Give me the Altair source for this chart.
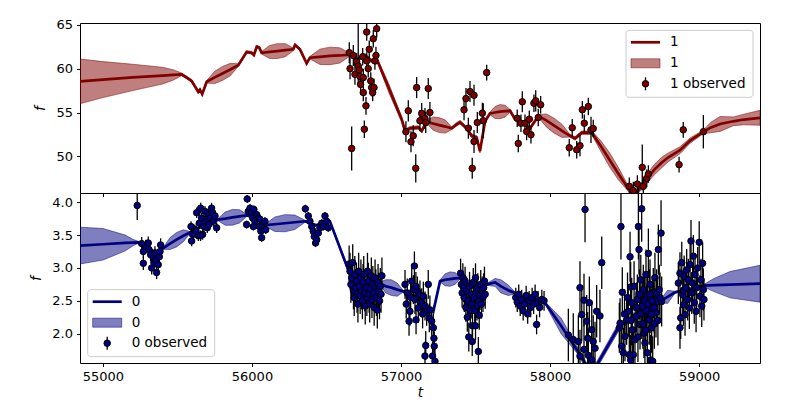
import altair as alt
import pandas as pd

# ---------------- shared axis values ----------------
X_DOMAIN = [54846, 59409]
X_TICKS = [55000, 56000, 57000, 58000, 59000]

# ---------------- channel "1" (top panel) ----------------
Y1_DOMAIN = [45.83, 65.2]
Y1_TICKS = [50, 55, 60, 65]

fit1_t = [54846, 55000, 55200, 55400, 55470, 55528, 55560, 55595, 55640, 55651, 55666, 55696,
          55750, 55802, 55855, 55908, 55964, 55998, 56013, 56032, 56049, 56065, 56118, 56171,
          56224, 56277, 56289, 56322, 56367, 56389, 56456, 56523, 56590, 56658, 56700, 56760,
          56800, 56837, 56920, 57005, 57027, 57060, 57116, 57139, 57172, 57214, 57256, 57298,
          57340, 57369, 57396, 57441, 57474, 57508, 57530, 57564, 57597, 57631, 57664, 57698,
          57732, 57765, 57810, 57866, 57922, 57975, 58028, 58081, 58134, 58168, 58213, 58280,
          58340, 58400, 58460, 58526, 58582, 58649, 58700, 58750, 58794, 58872, 58940, 59029,
          59080, 59141, 59230, 59300, 59409]
fit1_mean = [58.55, 58.75, 59.0, 59.2, 59.28, 59.35, 59.0, 58.6, 57.35, 57.6, 57.1, 58.5,
             59.0, 59.45, 59.9, 60.4, 61.9, 61.8, 61.55, 62.5, 62.4, 61.8, 61.9, 62.0,
             62.1, 62.2, 62.7, 62.2, 60.6, 61.25, 61.35, 61.45, 61.5, 61.6, 61.0, 61.5,
             60.9, 61.1, 57.7, 54.2, 52.9, 53.2, 53.3, 52.9, 53.94, 53.75, 53.57, 53.4,
             53.2, 53.6, 53.9, 53.2, 52.35, 52.16, 50.6, 54.0, 54.9, 55.0, 55.1, 55.15,
             55.2, 54.24, 53.9, 53.2, 54.6, 54.1, 53.5, 52.9, 52.35, 52.05, 52.7, 52.7,
             51.2, 49.6, 48.0, 46.3, 45.9, 47.4, 48.5, 49.3, 49.9, 50.7, 51.8, 52.8,
             53.3, 53.7, 54.0, 54.2, 54.4]
fit1_hw = [2.55, 2.05, 1.5, 0.95, 0.6, 0.15, 0.15, 0.15, 0.15, 0.15, 0.15, 0.15,
           0.7, 0.8, 0.7, 0.15, 0.15, 0.15, 0.15, 0.15, 0.15, 0.15, 0.74, 0.85,
           0.74, 0.15, 0.15, 0.15, 0.15, 0.15, 0.87, 1.0, 0.87, 0.15, 0.2, 0.2,
           0.2, 0.2, 0.5, 0.3, 0.2, 0.2, 0.2, 0.2, 0.15, 0.74, 0.85, 0.74,
           0.15, 0.2, 0.2, 0.2, 0.2, 0.2, 0.2, 0.2, 0.15, 0.68, 0.8, 0.68,
           0.15, 0.2, 0.2, 0.2, 0.15, 0.74, 0.85, 0.74, 0.15, 0.2, 0.2, 0.2,
           0.6, 0.8, 0.7, 0.3, 0.3, 0.5, 0.6, 0.6, 0.5, 0.4, 0.3, 0.2,
           0.6, 0.85, 0.5, 0.6, 0.85]

obs1_t = [56653, 56658, 56669, 56680, 56691, 56703, 56713, 56713, 56720, 56725, 56729, 56743,
          56747, 56747, 56754, 56765, 56770, 56770, 56780, 56787, 56797, 56803, 56810, 56814,
          56819, 56825, 56832, 56837,
          57033, 57049, 57067, 57082, 57099, 57105, 57127, 57139, 57161, 57166, 57183, 57194,
          57423, 57436, 57452, 57463, 57478, 57490, 57490, 57512, 57546, 57552, 57575,
          57780, 57787, 57805, 57814, 57832, 57843, 57861, 57872, 57892, 57904, 57921, 57937,
          58129, 58149, 58179, 58201, 58217, 58230, 58257, 58275, 58290,
          58532, 58559, 58586, 58593, 58619, 58626, 58649, 58660,
          58866, 58894, 59029]
obs1_f = [61.82, 60.0, 50.9, 61.5, 59.35, 60.76, 60.3, 66.0, 59.85, 59.1, 58.2, 61.36,
          58.98, 57.27, 53.1, 55.76, 64.17, 60.88, 60.0, 62.2, 58.6, 57.84, 57.27, 63.4,
          57.84, 60.88, 61.5, 64.55,
          52.81, 55.19, 51.67, 52.35, 48.64, 57.84, 54.06, 54.89, 54.32, 53.86, 57.73, 55.0,
          55.31, 56.59, 53.22, 57.39, 48.64, 56.97, 51.7, 53.86, 54.92, 54.06, 59.55,
          54.35, 51.48, 53.78, 56.22, 53.78, 52.84, 54.24, 52.47, 56.06, 56.33, 54.43, 55.88,
          50.99, 53.26, 50.76, 51.22, 55.31, 53.78, 55.68, 53.03, 53.18,
          46.59, 46.1, 46.85, 45.2, 48.75, 46.59, 47.5, 47.99,
          49.06, 53.03, 52.81]
obs1_err = [1.2, 1.2, 2.5, 1.2, 1.2, 1.0, 1.0, 7.9, 1.0, 1.0, 1.0, 1.0,
            1.0, 1.0, 1.0, 1.0, 1.0, 1.0, 1.0, 1.0, 1.0, 1.0, 1.0, 1.0,
            1.0, 1.0, 1.0, 1.0,
            1.2, 1.2, 1.2, 1.2, 1.6, 1.2, 1.2, 1.2, 1.2, 1.2, 1.2, 1.2,
            1.2, 1.2, 1.2, 1.2, 1.2, 1.2, 1.3, 1.2, 1.2, 2.0, 0.9,
            1.0, 1.0, 1.0, 1.2, 1.0, 1.0, 1.0, 1.0, 1.0, 1.2, 1.0, 1.0,
            1.0, 1.0, 1.0, 1.2, 1.0, 1.0, 1.0, 1.5, 1.0,
            1.0, 1.0, 1.0, 1.3, 2.6, 1.0, 1.0, 1.0,
            0.9, 0.9, 1.9]

# ---------------- channel "0" (bottom panel) ----------------
Y0_DOMAIN = [1.554, 4.14]
Y0_TICKS = [2.0, 2.5, 3.0, 3.5, 4.0]

fit0_t = [54846, 55000, 55150, 55200, 55237, 55300, 55360, 55405, 55450, 55494, 55540, 55584,
          55678, 55772, 55820, 55869, 55917, 55966, 56027, 56087, 56154, 56221, 56288, 56356,
          56430, 56523, 56646, 56752, 56859, 56897, 56936, 56975, 57013, 57114, 57217, 57262,
          57296, 57329, 57363, 57396, 57487, 57577, 57631, 57671, 57720, 57765, 57866, 57966,
          58074, 58179, 58248, 58313, 58458, 58604, 58738, 58789, 58839, 58940, 59029, 59100,
          59208, 59409]
fit0_mean = [3.34, 3.36, 3.38, 3.385, 3.39, 3.30, 3.22, 3.30, 3.37, 3.43, 3.49, 3.54,
             3.65, 3.735, 3.75, 3.77, 3.785, 3.80, 3.75, 3.65, 3.665, 3.68, 3.695, 3.71,
             3.65, 3.71, 2.97, 2.80, 2.77, 2.72, 2.70, 2.67, 2.645, 2.55, 2.34, 2.80,
             2.82, 2.83, 2.84, 2.85, 2.70, 2.75, 2.78, 2.72, 2.66, 2.62, 2.50, 2.47,
             2.12, 1.76, 1.50, 1.52, 2.09, 2.35, 2.49, 2.56, 2.63, 2.68, 2.73, 2.74,
             2.745, 2.76]
fit0_hw = [0.28, 0.24, 0.12, 0.05, 0.015, 0.015, 0.015, 0.015, 0.09, 0.11, 0.09, 0.015,
           0.015, 0.015, 0.1, 0.12, 0.1, 0.015, 0.015, 0.015, 0.11, 0.13, 0.11, 0.015,
           0.015, 0.015, 0.03, 0.015, 0.015, 0.1, 0.12, 0.1, 0.015, 0.015, 0.015, 0.015,
           0.09, 0.11, 0.09, 0.015, 0.015, 0.015, 0.06, 0.1, 0.08, 0.015, 0.015, 0.015,
           0.12, 0.05, 0.05, 0.05, 0.06, 0.04, 0.015, 0.1, 0.015, 0.015, 0.015, 0.1,
           0.2, 0.28]

a_t = [55230, 55260, 55271, 55271, 55287, 55304, 55309, 55320, 55327, 55338, 55342, 55349,
       55356, 55360, 55371, 55378, 55383, 55387]
a_f = [3.95, 3.37, 3.25, 3.07, 3.33, 3.38, 3.28, 3.20, 3.00, 3.15, 3.08, 3.23,
       3.13, 2.93, 3.05, 3.17, 3.25, 3.35]
b_t = [55591, 55595, 55602, 55617, 55629, 55640, 55646, 55656, 55662, 55669, 55678, 55685,
       55691, 55700, 55707, 55718, 55729, 55736, 55740, 55752, 55763, 55625, 55655, 55710]
b_f = [3.63, 3.41, 3.51, 3.58, 3.84, 3.49, 3.68, 3.91, 3.76, 3.51, 3.63, 3.86,
       3.71, 3.61, 3.81, 3.76, 3.91, 3.84, 3.71, 3.79, 3.61, 3.56, 3.49, 3.66]
c_t = [55964, 55968, 55975, 55987, 55998, 56005, 56009, 56013, 56020, 56032, 56042, 56049,
       56054, 56060, 56065, 56072, 56080, 56087, 56092]
c_f = [3.66, 4.05, 3.86, 3.91, 3.84, 3.76, 3.63, 3.89, 3.71, 3.81, 3.76, 3.63,
       3.74, 3.56, 3.46, 3.66, 3.61, 3.71, 3.58]
d_t = [56358, 56378, 56389, 56401, 56411, 56418, 56427, 56434, 56445, 56456, 56468, 56478,
       56490, 56501, 56512]
d_f = [3.90, 3.79, 3.71, 3.63, 3.56, 3.48, 3.38, 3.43, 3.53, 3.61, 3.68, 3.63,
       3.79, 3.71, 3.61]
e_t = [56652, 56658, 56664, 56669, 56676, 56681, 56686, 56690, 56696, 56701, 56705, 56711,
       56716, 56720, 56726, 56731, 56735, 56741, 56745, 56750, 56756, 56760, 56766, 56771,
       56775, 56781, 56786, 56790, 56796, 56801, 56805, 56811, 56816, 56820, 56826, 56831,
       56835, 56841, 56846, 56850, 56856, 56861, 56866, 56872]
e_f = [3.06, 2.95, 2.75, 2.85, 3.08, 2.65, 2.55, 2.90, 2.70, 2.80, 2.60, 2.45,
       2.95, 2.72, 2.58, 2.85, 2.65, 2.50, 2.78, 2.90, 2.62, 2.42, 2.70, 2.55,
       2.95, 2.80, 2.60, 2.45, 2.68, 2.88, 2.52, 2.75, 2.62, 2.40, 2.85, 2.70,
       2.55, 2.36, 2.78, 2.65, 2.50, 2.72, 2.60, 2.88]
f_t = [57027, 57042, 57054, 57060, 57072, 57083, 57090, 57094, 57101, 57110, 57116, 57127,
       57139, 57150, 57161, 57161, 57166, 57172, 57183, 57190, 57194, 57206, 57212, 57217,
       57221, 57223, 57228, 57035, 57065, 57100, 57145]
f_f = [2.75, 2.62, 2.19, 2.34, 2.80, 2.67, 3.03, 2.52, 2.21, 2.65, 2.39, 2.59,
       2.47, 2.57, 2.42, 1.66, 1.82, 2.34, 2.75, 2.24, 2.36, 2.19, 1.66, 2.09,
       1.93, 1.81, 1.58, 2.45, 2.55, 2.72, 2.30]
g_t = [57400, 57405, 57410, 57415, 57420, 57425, 57430, 57435, 57440, 57445, 57450, 57455,
       57460, 57465, 57470, 57475, 57478, 57480, 57485, 57490, 57495, 57500, 57500, 57505,
       57510, 57515, 57519, 57520, 57525, 57530, 57535, 57540, 57545, 57550, 57555, 57560,
       57565]
g_f = [2.92, 2.75, 2.62, 2.85, 2.70, 2.55, 2.80, 2.40, 2.65, 2.25, 2.50, 1.95,
       2.72, 2.35, 2.60, 2.45, 1.88, 2.12, 2.78, 2.55, 2.35, 2.85, 2.12, 2.62,
       2.42, 2.70, 1.73, 2.50, 2.28, 2.58, 2.75, 2.45, 2.65, 2.55, 2.70, 2.80,
       2.60]
h_t = [57770, 57780, 57790, 57800, 57810, 57820, 57830, 57840, 57850, 57860, 57870, 57880,
       57890, 57900, 57910, 57920, 57930, 57945, 57960]
h_f = [2.55, 2.48, 2.60, 2.42, 2.52, 2.35, 2.45, 2.58, 2.30, 2.50, 2.40, 2.55,
       2.45, 2.60, 2.14, 2.50, 2.40, 2.52, 2.50]
i_t = [58123, 58156, 58190, 58201, 58201, 58213, 58228, 58228, 58235, 58246, 58253, 58257,
       58264, 58280, 58280, 58290, 58302, 58313, 58335, 58347]
i_f = [1.98, 1.91, 1.88, 2.70, 1.66, 2.29, 2.51, 1.76, 3.89, 2.19, 1.93, 1.67,
       2.47, 2.06, 1.60, 1.88, 1.78, 2.34, 2.27, 3.08]
j_t = [58465, 58470, 58476, 58481, 58485, 58492, 58503, 58514, 58525, 58532, 58537, 58541,
       58541, 58548, 58552, 58559, 58564, 58570, 58577, 58586, 58593, 58597, 58604, 58609,
       58615, 58619, 58626, 58630, 58637, 58644, 58653, 58653, 58660, 58666, 58671, 58675,
       58677, 58682, 58689, 58693, 58704, 58711, 58720, 58727, 58733, 58745, 58749,
       58500, 58520, 58545, 58580, 58600, 58612, 58623, 58635, 58648, 58657, 58668, 58680,
       58686, 58698, 58715, 58724, 58738, 58590, 58642, 58700]
j_f = [2.09, 2.16, 3.63, 1.81, 2.63, 1.71, 1.96, 2.21, 2.34, 1.68, 3.17, 2.71,
       1.60, 2.47, 2.06, 1.68, 2.72, 1.91, 2.26, 2.52, 3.63, 3.28, 2.14, 2.82,
       3.90, 2.42, 2.67, 2.01, 1.86, 2.90, 2.57, 1.71, 3.22, 2.21, 2.75, 1.60,
       2.39, 2.09, 1.58, 2.62, 2.85, 2.32, 2.49, 3.28, 2.67, 3.53, 2.49,
       2.30, 2.55, 2.20, 2.40, 2.60, 2.30, 2.15, 2.50, 2.35, 2.45, 2.60, 2.30,
       2.50, 2.40, 2.60, 2.20, 2.55, 1.95, 2.05, 2.15]
k_t = [58861, 58872, 58872, 58877, 58884, 58891, 58895, 58895, 58900, 58906, 58913, 58917,
       58924, 58928, 58935, 58940, 58946, 58951, 58957, 58962, 58968, 58973, 58980, 58984,
       58991, 59001, 59006, 59013, 59018, 59024, 59029, 59033]
k_f = [2.77, 2.09, 2.92, 2.24, 3.08, 2.59, 2.44, 2.66, 2.87, 2.29, 2.70, 2.97,
       2.52, 2.82, 2.39, 3.05, 3.41, 2.62, 2.77, 3.18, 2.47, 2.90, 2.34, 2.70,
       3.00, 3.39, 2.57, 2.82, 2.42, 3.07, 2.67, 2.52]
# error-bar half lengths read per group
group_err = {"a": 0.1, "b": 0.08, "c": 0.06, "d": 0.06, "e": 0.28, "f": 0.22,
             "g": 0.22, "h": 0.15, "i": 0.4, "j": 0.38, "k": 0.32}

LEGEND_LABELS_1 = ["1", "1", "1 observed"]
LEGEND_LABELS_0 = ["0", "0", "0 observed"]

RED = "#800000"
BLUE = "#000080"
FONT = "DejaVu Sans"

# ---------------- tables ----------------
fit1 = pd.DataFrame({"t": fit1_t, "mean": fit1_mean, "hw": fit1_hw})
fit1["lo"] = fit1["mean"] - fit1["hw"]
fit1["hi"] = fit1["mean"] + fit1["hw"]
obs1 = pd.DataFrame({"t": obs1_t, "f": obs1_f, "err": obs1_err})
obs1["lo"] = obs1["f"] - obs1["err"]
obs1["hi"] = obs1["f"] + obs1["err"]

fit0 = pd.DataFrame({"t": fit0_t, "mean": fit0_mean, "hw": fit0_hw})
fit0["lo"] = fit0["mean"] - fit0["hw"]
fit0["hi"] = fit0["mean"] + fit0["hw"]
groups = {"a": (a_t, a_f), "b": (b_t, b_f), "c": (c_t, c_f), "d": (d_t, d_f),
          "e": (e_t, e_f), "f": (f_t, f_f), "g": (g_t, g_f), "h": (h_t, h_f),
          "i": (i_t, i_f), "j": (j_t, j_f), "k": (k_t, k_f)}
rows = []
for key, (ts, fs) in groups.items():
    for tv, fv in zip(ts, fs):
        rows.append({"t": tv, "f": fv, "err": group_err[key]})
obs0 = pd.DataFrame(rows)
obs0.loc[(obs0["t"] == 55230), "err"] = 0.22
obs0.loc[(obs0["f"] > 3.5) & (obs0["t"] > 58100), "err"] = 0.5
obs0["lo"] = obs0["f"] - obs0["err"]
obs0["hi"] = obs0["f"] + obs0["err"]


def panel(fit, obs, color, ydom, yticks, yfmt, show_x, leg_x, leg_y, labels):
    xaxis_kw = dict(values=X_TICKS, format="d", tickSize=3.5, domain=False,
                    labelPadding=4, labels=show_x)
    if show_x:
        xaxis_kw["title"] = "t"
        xaxis_kw["titlePadding"] = 2
    else:
        xaxis_kw["title"] = ""
    xscale = alt.Scale(domain=X_DOMAIN, nice=False, zero=False)
    yscale = alt.Scale(domain=ydom, nice=False, zero=False)
    yaxis = alt.Axis(values=yticks, format=yfmt, title="f", tickSize=3.5, domain=False,
                     labelPadding=4, titlePadding=8)

    def X():
        return alt.X("t:Q", scale=xscale, axis=alt.Axis(**xaxis_kw))

    def Y(field):
        return alt.Y(field, scale=yscale, axis=yaxis)

    band = alt.Chart(fit).mark_area(clip=True, fill=color, fillOpacity=0.5, stroke=color,
                                    strokeOpacity=0.5, strokeWidth=1).encode(
        x=X(), y=Y("lo:Q"), y2="hi:Q")
    line = alt.Chart(fit).mark_line(clip=True, color=color, strokeWidth=2.7).encode(
        x=X(), y=Y("mean:Q"))
    bars = alt.Chart(obs).mark_rule(clip=True, color="black", strokeWidth=1.3).encode(
        x=X(), y=Y("lo:Q"), y2="hi:Q")
    pts = alt.Chart(obs).mark_point(clip=True, filled=True, fill=color, stroke="black",
                                    strokeWidth=1, size=42, opacity=1, fillOpacity=1).encode(
        x=X(), y=Y("f:Q"))

    one = alt.Data(values=[{"k": 0}])
    box = alt.Chart(one).mark_rect(fill="white", fillOpacity=0.8, stroke="#cccccc",
                                   strokeWidth=1, cornerRadius=3).encode(
        x=alt.value(leg_x), x2=alt.value(leg_x + 127),
        y=alt.value(leg_y), y2=alt.value(leg_y + 67))
    lg_line = alt.Chart(one).mark_rule(color=color, strokeWidth=2.7).encode(
        x=alt.value(leg_x + 5), x2=alt.value(leg_x + 34), y=alt.value(leg_y + 12))
    lg_rect = alt.Chart(one).mark_rect(fill=color, fillOpacity=0.5, stroke=color,
                                       strokeOpacity=0.5, strokeWidth=1).encode(
        x=alt.value(leg_x + 5), x2=alt.value(leg_x + 34),
        y=alt.value(leg_y + 28.5), y2=alt.value(leg_y + 37.5))
    lg_bar = alt.Chart(one).mark_rule(color="black", strokeWidth=1.3).encode(
        x=alt.value(leg_x + 19.5), y=alt.value(leg_y + 47), y2=alt.value(leg_y + 60))
    lg_pt = alt.Chart(one).mark_point(filled=True, fill=color, stroke="black", strokeWidth=1,
                                      size=42, opacity=1).encode(
        x=alt.value(leg_x + 19.5), y=alt.value(leg_y + 53.5))
    txt = []
    for lab, dy in zip(labels, [12, 33, 53.5]):
        txt.append(alt.Chart(one).mark_text(align="left", baseline="middle", font=FONT,
                                            fontSize=13.5, color="black").encode(
            x=alt.value(leg_x + 44), y=alt.value(leg_y + dy), text=alt.value(lab)))
    return alt.layer(band, line, bars, pts, box, lg_line, lg_rect, lg_bar, lg_pt, *txt).properties(
        width=680, height=170)


top = panel(fit1, obs1, RED, Y1_DOMAIN, Y1_TICKS, "d", False, 546, 7.3, LEGEND_LABELS_1)
bottom = panel(fit0, obs0, BLUE, Y0_DOMAIN, Y0_TICKS, ".1f", True, 7.7, 96.7, LEGEND_LABELS_0)

chart = alt.vconcat(top, bottom, spacing=0, bounds="flush").properties(
    padding={"left": 21, "top": 10, "right": 5, "bottom": 5},
    background="white",
).configure_view(stroke="black", strokeWidth=1).configure_axis(
    grid=False, tickColor="black", tickWidth=1, labelColor="black", labelFont=FONT,
    labelFontSize=13, titleFont=FONT, titleFontSize=13.5, titleFontWeight="normal",
    titleFontStyle="italic", titleColor="black",
)

chart.save("out.html", embed_options={"renderer": "svg", "actions": False})
